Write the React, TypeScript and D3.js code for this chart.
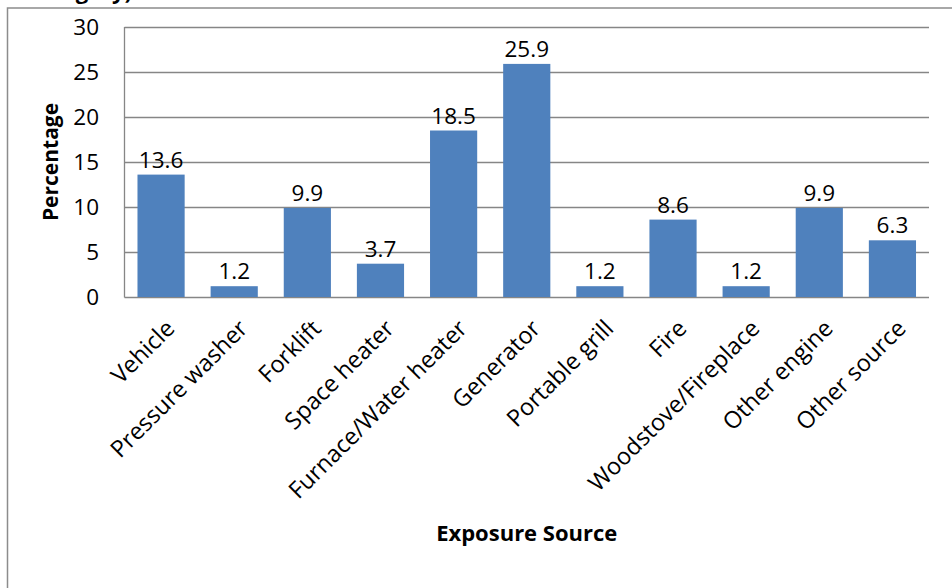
import React from "react";
import * as d3 from "d3";

const categories = [
  "Vehicle",
  "Pressure washer",
  "Forklift",
  "Space heater",
  "Furnace/Water heater",
  "Generator",
  "Portable grill",
  "Fire",
  "Woodstove/Fireplace",
  "Other engine",
  "Other source",
];
const percentages = [13.6, 1.2, 9.9, 3.7, 18.5, 25.9, 1.2, 8.6, 1.2, 9.9, 6.3];
const yTicks = [0, 5, 10, 15, 20, 25, 30];

const W = 952;
const H = 588;
const plot = { left: 124.5, right: 929, top: 27, bottom: 297 };
const FONT = "'Open Sans', 'Noto Sans', sans-serif";
const BAR = "#4F81BD";
const GRID = "#868686";

export default function App() {
  const x = d3
    .scaleBand<string>()
    .domain(categories)
    .range([plot.left, plot.right])
    .paddingInner(0.355)
    .paddingOuter(0.1775);
  const y = d3.scaleLinear().domain([0, 30]).range([plot.bottom, plot.top]);

  return (
    <svg
      width={W}
      height={H}
      style={{ position: "absolute", left: 0, top: 0, background: "#fff" }}
      fontFamily={FONT}
    >
      <rect x={0} y={0} width={W} height={H} fill="#fff" />
      {/* chart frame, continuing past the page edge */}
      <rect x={7.5} y={8} width={W + 20} height={H + 20} fill="none" stroke="#8c8c8c" strokeWidth={1.5} />
      <text x={26} y={-1} fontSize={22} fontWeight="bold" fill="#000">
        Category)
      </text>

      {/* gridlines */}
      {yTicks.map((t) => (
        <line
          key={t}
          x1={plot.left}
          x2={plot.right}
          y1={Math.round(y(t)) + 0.5}
          y2={Math.round(y(t)) + 0.5}
          stroke={GRID}
          strokeWidth={1.3}
        />
      ))}
      <line x1={plot.left} x2={plot.left} y1={plot.top} y2={plot.bottom + 0.5} stroke={GRID} strokeWidth={1.3} />

      {/* y tick labels */}
      {yTicks.map((t) => (
        <text key={t} x={99} y={y(t)} dy="0.36em" textAnchor="end" fontSize={22.5} fill="#000">
          {t}
        </text>
      ))}

      {/* bars with value labels */}
      {categories.map((c, i) => (
        <g key={c}>
          <rect x={x(c)} y={y(percentages[i])} width={x.bandwidth()} height={y(0) - y(percentages[i])} fill={BAR} />
          <text
            x={(x(c) as number) + x.bandwidth() / 2}
            y={y(percentages[i]) - 7}
            textAnchor="middle"
            fontSize={22.5}
            fill="#000"
          >
            {percentages[i]}
          </text>
        </g>
      ))}

      {/* category labels */}
      {categories.map((c) => {
        const cx = (x(c) as number) + x.bandwidth() / 2 + 3;
        const cy = 318;
        return (
          <text
            key={c}
            transform={`translate(${cx},${cy}) rotate(-45)`}
            textAnchor="end"
            dy="0.72em"
            fontSize={23.5}
            fill="#000"
          >
            {c}
          </text>
        );
      })}

      {/* axis titles */}
      <text
        transform={`translate(58,${(plot.top + plot.bottom) / 2}) rotate(-90)`}
        textAnchor="middle"
        fontSize={21}
        fontWeight="bold"
        fill="#000"
      >
        Percentage
      </text>
      <text x={(plot.left + plot.right) / 2} y={541} textAnchor="middle" fontSize={22} fontWeight="bold" fill="#000">
        Exposure Source
      </text>
    </svg>
  );
}
